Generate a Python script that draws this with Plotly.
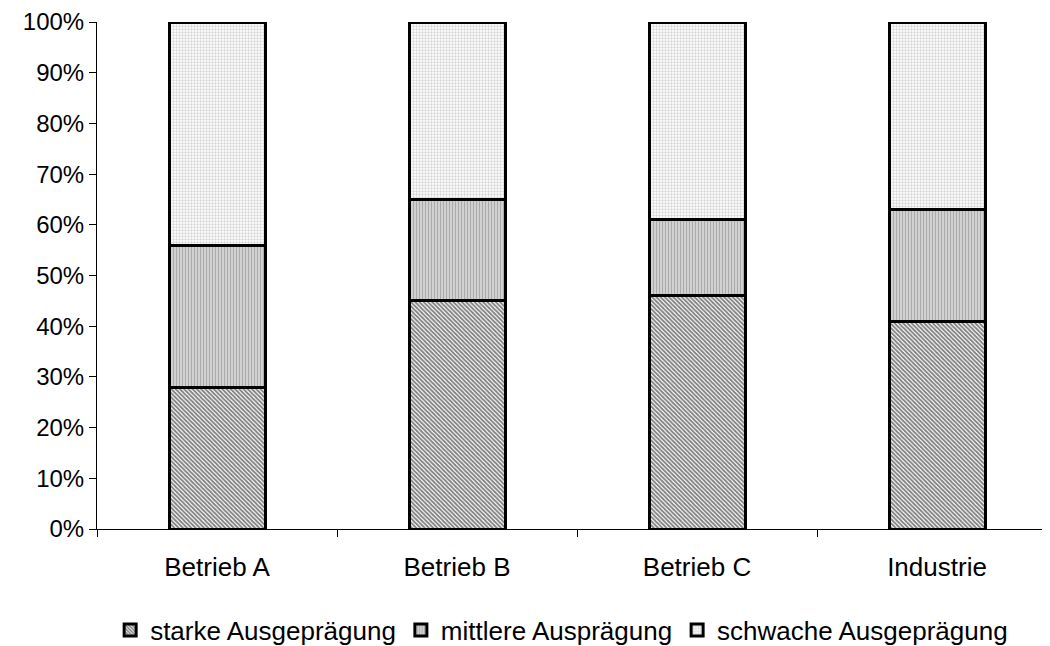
import plotly.graph_objects as go

categories = ["Betrieb A", "Betrieb B", "Betrieb C", "Industrie"]
starke = [28, 45, 46, 41]
mittlere = [28, 20, 15, 22]
schwache = [44, 35, 39, 37]
series_names = ["starke Ausgeprägung", "mittlere Ausprägung", "schwache Ausgeprägung"]

fig = go.Figure()
styles = [
    dict(shape="\\", fgcolor="#000000", bgcolor="#ffffff", size=3, solidity=0.62),
    dict(shape="|", fgcolor="#555555", bgcolor="#ffffff", size=3, solidity=0.7),
    dict(shape=".", fgcolor="#a8a8a8", bgcolor="#ffffff", size=3, solidity=0.45),
]
for name, vals, st in zip(series_names, [starke, mittlere, schwache], styles):
    fig.add_trace(go.Bar(
        x=categories, y=vals, name=name,
        marker=dict(color="white", pattern=dict(fillmode="overlay", **st),
                    line=dict(color="black", width=3)),
    ))

fig.update_layout(
    barmode="stack", bargap=0.6,
    width=1050, height=646,
    margin=dict(l=89, r=1, t=14, b=125),
    plot_bgcolor="white", paper_bgcolor="white",
    font=dict(family="Liberation Sans, Arial", size=24, color="black"),
    legend=dict(orientation="h", x=0.484, xanchor="center", y=-0.153, yanchor="top",
                font=dict(size=26), itemwidth=30, traceorder="normal"),
    showlegend=True,
)
fig.update_xaxes(range=[-0.5, 3.5], showline=True, linecolor="black", linewidth=1,
                 ticks="outside", tickson="boundaries", ticklen=7, tickcolor="black",
                 tickfont=dict(size=26), ticklabelstandoff=15,
                 showgrid=False)
fig.update_yaxes(range=[0, 100], tickvals=list(range(0, 101, 10)),
                 ticktext=[f"{v}%" for v in range(0, 101, 10)],
                 showline=True, linecolor="black", linewidth=1,
                 ticks="outside", ticklen=7, tickcolor="black", showgrid=False,
                 zeroline=False)
fig.write_html("out.html")
